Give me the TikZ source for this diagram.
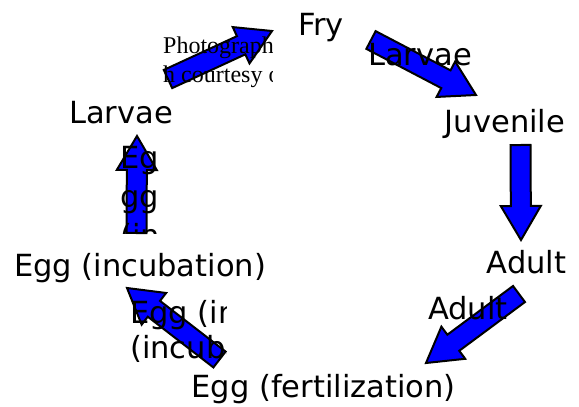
\documentclass[tikz,border=0pt]{standalone}
\usepackage{fontspec}
\setmainfont{DejaVu Sans}
\newfontfamily\photofont{Liberation Serif}
\usetikzlibrary{calc}

\begin{document}
\begin{tikzpicture}[
    x=1pt, y=-1pt,
    every node/.style={font=\fontsize{30.5}{36}\selectfont, inner sep=0pt},
    stage/.style={anchor=base},
    tag/.style={anchor=base west, align=left},
    blockarrow/.style={draw=black, fill=blue, line width=2pt, line join=miter},
]
\path[use as bounding box, fill=white] (0,0) rectangle (579,407);

% Life stages
\node[stage] (fry) at (321,35) {Fry};
\node[stage] (juv) at (505,132) {Juvenile};
\node[stage] (adult) at (526.5,273) {Adult};
\node[stage] (fert) at (323.5,397) {Egg (fertilization)};
\node[stage] (incu) at (140,276) {Egg (incubation)};
\node[stage] (larvae) at (121,123) {Larvae};

% Arrow ends
\coordinate (larvae-out) at (168,79);   \coordinate (fry-in) at (272,31);
\coordinate (fry-out) at (371,40);      \coordinate (juv-in) at (476,95);
\coordinate (juv-out) at (520.5,145);   \coordinate (adult-in) at (521,240);
\coordinate (adult-out) at (519,294);   \coordinate (fert-in) at (426,363);
\coordinate (fert-out) at (219.5,359.5);\coordinate (incu-in) at (127,288);
\coordinate (incu-out) at (136.5,233);  \coordinate (larvae-in) at (137,136);

% Block arrows
\foreach \s/\e in {larvae-out/fry-in, fry-out/juv-in, juv-out/adult-in,
                   adult-out/fert-in, fert-out/incu-in, incu-out/larvae-in} {
    \coordinate (\e-base) at ($(\e)!34pt!(\s)$);
    \draw[blockarrow] ($(\s)!10pt!90:(\e)$) -- ($(\e-base)!10pt!90:(\e)$)
        -- ($(\e-base)!20pt!90:(\e)$) -- (\e) -- ($(\e-base)!20pt!-90:(\e)$)
        -- ($(\e-base)!10pt!-90:(\e)$) -- ($(\s)!10pt!-90:(\e)$) -- cycle;
}

% Arrow texts
\begin{scope}
    \clip (162,30) rectangle (272,89);
    \node[tag, font=\photofont\fontsize{24}{29}\selectfont] (photo) at (163,82) {Photograph\\h courtesy of};
\end{scope}
\begin{scope}
    \clip (367,32) rectangle (476,95);
    \node[tag] (tag-juv) at (368,65) {Larvae};
\end{scope}
\begin{scope}
    \clip (426,287) rectangle (525,363);
    \node[tag] (tag-fert) at (428,319) {Adult};
\end{scope}
\begin{scope}
    \clip (127,288) rectangle (226,367);
    \node[tag, font=\fontsize{30.5}{35}\selectfont] (tag-incu) at (130,358) {Egg (incubation)\\(incubation)};
\end{scope}
\begin{scope}
    \clip (117,136) rectangle (157,233);
    \node[tag, font=\fontsize{30.5}{39}\selectfont] (tag-larvae) at (120,246) {Eg\\gg\\(in};
\end{scope}

\end{tikzpicture}
\end{document}
